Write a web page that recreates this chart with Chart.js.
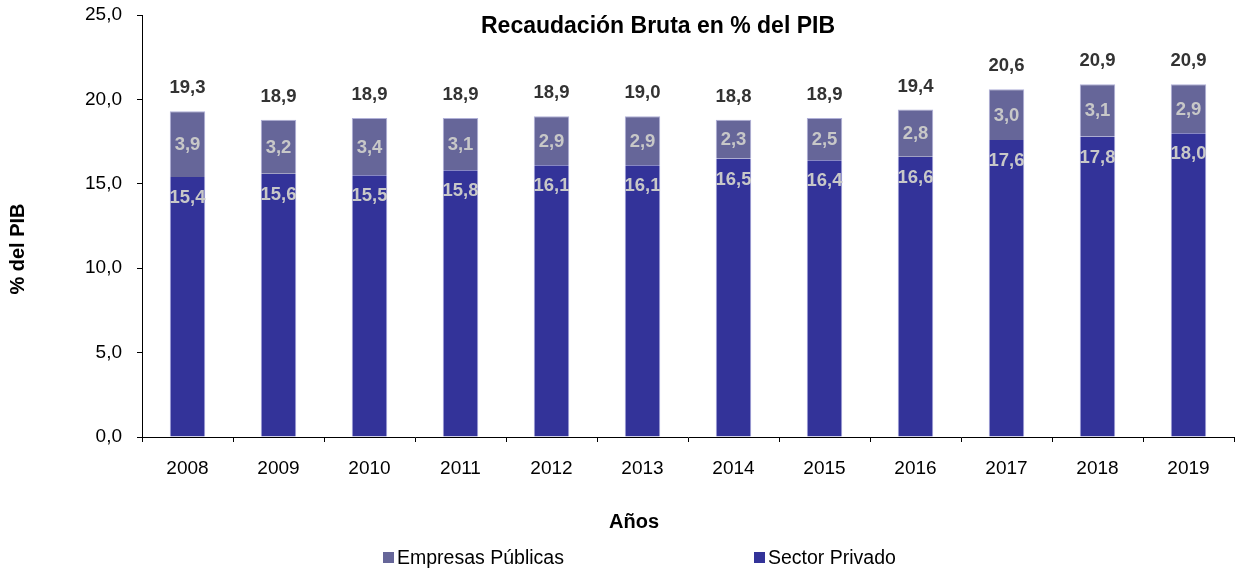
<!DOCTYPE html>
<html>
<head>
<meta charset="utf-8">
<script src="https://cdn.jsdelivr.net/npm/chart.js@4/dist/chart.umd.min.js"></script>
<style>
  html, body { margin: 0; padding: 0; background: #fff; }
  #wrap { width: 1235px; height: 571px; }
</style>
</head>
<body>
<div id="wrap"><canvas id="chart" width="1235" height="571"></canvas></div>
<script>
const years = ['2008', '2009', '2010', '2011', '2012', '2013', '2014', '2015', '2016', '2017', '2018', '2019'];
const sectorPrivado = [15.4, 15.6, 15.5, 15.8, 16.1, 16.1, 16.5, 16.4, 16.6, 17.6, 17.8, 18.0];
const empresasPublicas = [3.9, 3.2, 3.4, 3.1, 2.9, 2.9, 2.3, 2.5, 2.8, 3.0, 3.1, 2.9];
const totals = [19.3, 18.9, 18.9, 18.9, 18.9, 19.0, 18.8, 18.9, 19.4, 20.6, 20.9, 20.9];

const FONT = '"Liberation Sans", Arial, sans-serif';
const fmt = (v) => v.toFixed(1).replace('.', ',');

// draws titles, legend and value labels
const textPlugin = {
  id: 'texts',
  afterDatasetsDraw(chart) {
    const ctx = chart.ctx;
    ctx.save();
    ctx.textAlign = 'center';
    ctx.textBaseline = 'middle';

    const priv = chart.getDatasetMeta(0).data;
    const pub = chart.getDatasetMeta(1).data;

    ctx.font = 'bold 18.5px ' + FONT;
    ctx.fillStyle = '#c8c8c8';
    priv.forEach((bar, i) => {
      ctx.fillText(fmt(sectorPrivado[i]), bar.x, bar.y + 21);
    });
    pub.forEach((bar, i) => {
      ctx.fillText(fmt(empresasPublicas[i]), bar.x, (bar.y + bar.base) / 2 + 1);
    });

    ctx.fillStyle = '#333333';
    pub.forEach((bar, i) => {
      ctx.fillText(fmt(totals[i]), bar.x, bar.y - 23);
    });

    ctx.fillStyle = '#000';
    ctx.font = 'bold 23px ' + FONT;
    ctx.fillText('Recaudación Bruta en % del PIB', 658, 27);

    ctx.font = 'bold 20px ' + FONT;
    ctx.fillText('Años', 634, 522);

    ctx.save();
    ctx.translate(18, 249);
    ctx.rotate(-Math.PI / 2);
    ctx.fillText('% del PIB', 0, 0);
    ctx.restore();

    // legend
    ctx.textAlign = 'left';
    ctx.font = '19.5px ' + FONT;
    ctx.fillStyle = '#666699';
    ctx.fillRect(383, 552, 11, 11);
    ctx.fillStyle = '#000';
    ctx.fillText('Empresas Públicas', 397, 559);
    ctx.fillStyle = '#333399';
    ctx.fillRect(754, 552, 11, 11);
    ctx.fillStyle = '#000';
    ctx.fillText('Sector Privado', 768, 559);
    ctx.restore();
  }
};

new Chart(document.getElementById('chart').getContext('2d'), {
  type: 'bar',
  data: {
    labels: years,
    datasets: [
      { label: 'Sector Privado', data: sectorPrivado, backgroundColor: '#333399', borderColor: '#a0a0d8', borderWidth: { left: 1, right: 1, top: 0, bottom: 0 }, borderSkipped: false },
      { label: 'Empresas Públicas', data: empresasPublicas, backgroundColor: '#666699', borderColor: '#b0b0d8', borderWidth: 1, borderSkipped: 'start' },
    ],
  },
  options: {
    responsive: false,
    animation: false,
    devicePixelRatio: 1,
    layout: { padding: { top: 15, right: 1, left: 0, bottom: 0 } },
    plugins: { legend: { display: false }, title: { display: false }, tooltip: { enabled: false } },
    datasets: { bar: { categoryPercentage: 1, barPercentage: 0.39 } },
    scales: {
      x: {
        stacked: true,
        border: { color: '#000', width: 1 },
        grid: { drawOnChartArea: false, tickLength: 5, color: '#000', offset: true },
        ticks: { color: '#000', font: { family: FONT, size: 19 }, padding: 15 },
        afterFit(scale) { scale.height = 134; scale.paddingLeft = 0; scale.paddingRight = 0; },
      },
      y: {
        stacked: true,
        min: 0,
        max: 25,
        border: { color: '#000', width: 1 },
        grid: { drawOnChartArea: false, tickLength: 5, color: '#000' },
        ticks: { stepSize: 5, color: '#000', font: { family: FONT, size: 19 }, padding: 15, callback: (v) => fmt(v) },
        afterFit(scale) { scale.width = 142; scale.paddingTop = 0; scale.paddingBottom = 0; },
      },
    },
  },
  plugins: [textPlugin],
});
</script>
</body>
</html>
